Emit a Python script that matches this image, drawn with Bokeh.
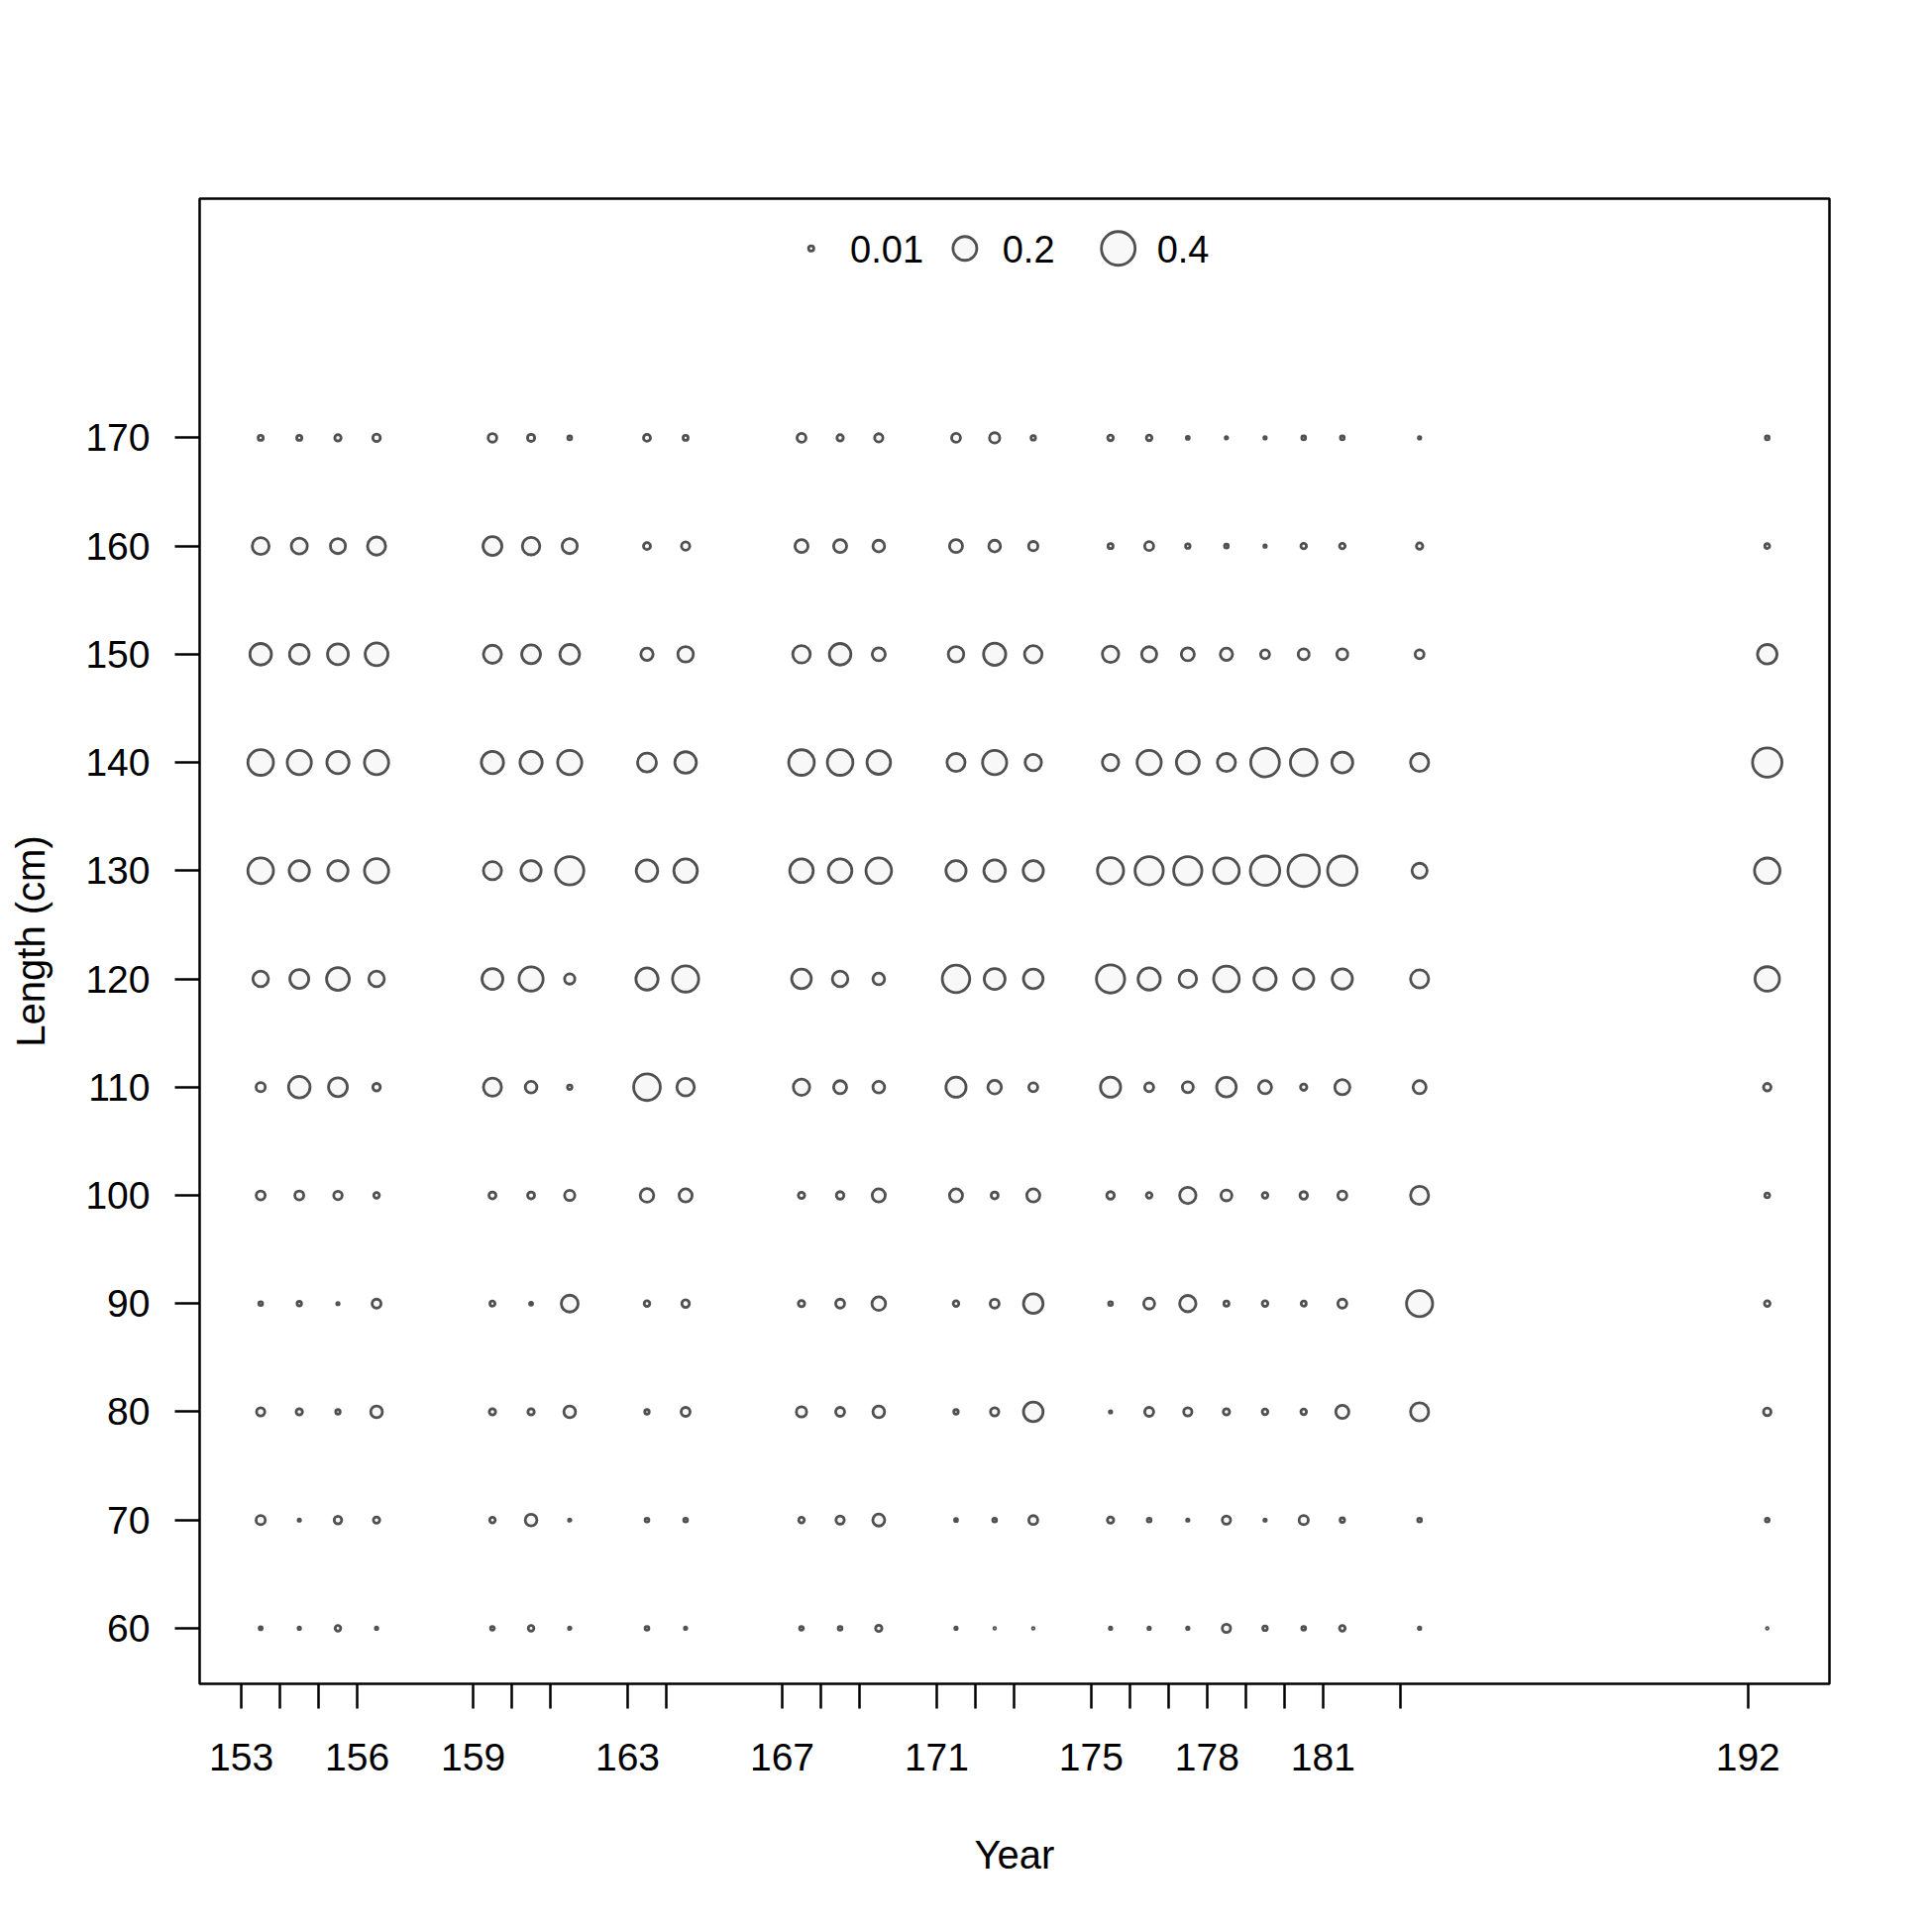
import math
from bokeh.plotting import figure
from bokeh.models import Range1d, FixedTicker, CustomJSTickFormatter, ColumnDataSource
from bokeh.core.properties import value
from bokeh.embed import file_html
from bokeh.resources import INLINE

# ---------------- data ----------------
years = [153, 154, 155, 156, 159, 160, 161, 163, 164, 167, 168, 169,
         171, 172, 173, 175, 176, 177, 178, 179, 180, 181, 183, 192]
labeled_years = [153, 156, 159, 163, 167, 171, 175, 178, 181, 192]
lengths = [60, 70, 80, 90, 100, 110, 120, 130, 140, 150, 160, 170]

prop_60 = [0.003, 0.002, 0.011, 0.002, 0.005, 0.011, 0.002, 0.005, 0.002, 0.005, 0.005, 0.014,
           0.002, 0.001, 0.001, 0.002, 0.002, 0.002, 0.024, 0.007, 0.005, 0.011, 0.002, 0.001]
prop_70 = [0.030, 0.002, 0.020, 0.014, 0.011, 0.048, 0.002, 0.005, 0.005, 0.011, 0.024, 0.050,
           0.003, 0.005, 0.028, 0.014, 0.005, 0.002, 0.024, 0.002, 0.030, 0.007, 0.005, 0.005]
prop_80 = [0.024, 0.014, 0.007, 0.048, 0.014, 0.014, 0.048, 0.007, 0.028, 0.037, 0.028, 0.048,
           0.007, 0.024, 0.135, 0.002, 0.028, 0.024, 0.014, 0.011, 0.011, 0.060, 0.115, 0.020]
prop_90 = [0.005, 0.007, 0.002, 0.028, 0.009, 0.003, 0.100, 0.011, 0.020, 0.014, 0.028, 0.065,
           0.011, 0.028, 0.135, 0.005, 0.042, 0.094, 0.009, 0.011, 0.009, 0.028, 0.240, 0.011]
prop_100 = [0.028, 0.028, 0.025, 0.011, 0.017, 0.017, 0.037, 0.065, 0.060, 0.014, 0.020, 0.060,
            0.060, 0.017, 0.060, 0.020, 0.011, 0.094, 0.042, 0.011, 0.020, 0.028, 0.115, 0.008]
prop_110 = [0.030, 0.163, 0.125, 0.020, 0.115, 0.048, 0.007, 0.250, 0.108, 0.094, 0.060, 0.048,
            0.143, 0.065, 0.028, 0.143, 0.028, 0.042, 0.135, 0.060, 0.014, 0.080, 0.060, 0.020]
prop_120 = [0.085, 0.125, 0.183, 0.085, 0.153, 0.205, 0.037, 0.173, 0.240, 0.135, 0.085, 0.048,
            0.265, 0.153, 0.135, 0.280, 0.173, 0.108, 0.230, 0.173, 0.143, 0.143, 0.115, 0.210]
prop_130 = [0.230, 0.143, 0.143, 0.205, 0.115, 0.143, 0.280, 0.163, 0.195, 0.195, 0.195, 0.230,
            0.143, 0.163, 0.143, 0.240, 0.280, 0.280, 0.230, 0.305, 0.350, 0.305, 0.080, 0.228]
prop_140 = [0.230, 0.205, 0.173, 0.205, 0.173, 0.173, 0.205, 0.125, 0.163, 0.230, 0.230, 0.195,
            0.115, 0.205, 0.094, 0.094, 0.205, 0.183, 0.115, 0.290, 0.250, 0.153, 0.115, 0.305]
prop_150 = [0.163, 0.135, 0.153, 0.183, 0.115, 0.125, 0.135, 0.053, 0.085, 0.108, 0.163, 0.060,
            0.085, 0.173, 0.108, 0.094, 0.080, 0.060, 0.053, 0.028, 0.042, 0.042, 0.028, 0.134]
prop_160 = [0.100, 0.090, 0.080, 0.115, 0.125, 0.108, 0.080, 0.017, 0.024, 0.060, 0.060, 0.048,
            0.060, 0.048, 0.030, 0.009, 0.028, 0.007, 0.005, 0.002, 0.011, 0.011, 0.014, 0.008]
prop_170 = [0.009, 0.009, 0.014, 0.020, 0.026, 0.018, 0.005, 0.017, 0.009, 0.028, 0.014, 0.024,
            0.028, 0.037, 0.007, 0.011, 0.011, 0.003, 0.002, 0.002, 0.005, 0.005, 0.002, 0.005]

props_by_length = [prop_60, prop_70, prop_80, prop_90, prop_100, prop_110,
                   prop_120, prop_130, prop_140, prop_150, prop_160, prop_170]

legend_values = [0.01, 0.2, 0.4]
legend_labels = ["0.01", "0.2", "0.4"]

# ---------------- styling ----------------
FONT = "Liberation Sans"
STROKE = "#505050"
FILL = "#f8f8f8"
SIZE_SCALE = 53.8  # px diameter per sqrt(proportion)
LW = 2.8

xs, ys, vals = [], [], []
for L, row in zip(lengths, props_by_length):
    for yr, v in zip(years, row):
        xs.append(yr + 0.5)
        ys.append(L)
        vals.append(v)
src = ColumnDataSource(dict(x=xs, y=ys, v=vals, s=[SIZE_SCALE * math.sqrt(v) for v in vals]))

p = figure(frame_width=1645, frame_height=1499,
           min_border_left=201, min_border_top=200, min_border_right=88, min_border_bottom=235,
           x_range=Range1d(151.92, 194.11), y_range=Range1d(54.87, 192.1),
           output_backend="svg", toolbar_location=None,
           background_fill_color="white", border_fill_color="white")
p.grid.visible = False
p.outline_line_color = "black"
p.outline_line_width = 2.5

p.scatter("x", "y", size="s", source=src, marker="circle",
          line_color=STROKE, fill_color=FILL, line_width=LW)

# legend (bubble key)
leg_x = [167.75, 171.73, 175.70]
leg_tx = [168.76, 172.70, 176.70]
leg_src = ColumnDataSource(dict(x=leg_x, y=[187.5] * 3,
                                s=[SIZE_SCALE * math.sqrt(v) for v in legend_values],
                                tx=leg_tx, ty=[187.4] * 3, t=legend_labels))
p.scatter("x", "y", size="s", source=leg_src, marker="circle",
          line_color=STROKE, fill_color=FILL, line_width=LW)
p.text("tx", "ty", text="t", source=leg_src, text_font=value(FONT),
       text_font_size="38px", text_color="black", text_baseline="middle", text_align="left")

# axes
xa = p.xaxis[0]
xa.ticker = FixedTicker(ticks=years)
xa.formatter = CustomJSTickFormatter(args=dict(lab=labeled_years),
                                     code="return lab.includes(tick) ? String(tick) : '';")
ya = p.yaxis[0]
ya.ticker = FixedTicker(ticks=lengths)

for ax in (xa, ya):
    ax.axis_line_color = None
    ax.major_tick_line_color = "black"
    ax.major_tick_line_width = 2.5
    ax.major_tick_out = 25
    ax.major_tick_in = 0
    ax.minor_tick_line_color = None
    ax.major_label_text_font = FONT
    ax.major_label_text_font_size = "39px"
    ax.major_label_text_color = "black"
    ax.axis_label_text_font = FONT
    ax.axis_label_text_font_size = "40px"
    ax.axis_label_text_font_style = "normal"
    ax.axis_label_text_color = "black"

xa.axis_label = "Year"
xa.major_label_standoff = 35
xa.axis_label_standoff = 60
ya.axis_label = "Length (cm)"
ya.major_label_standoff = 25
ya.axis_label_standoff = 30
ya.major_label_orientation = "horizontal"

open("out.html", "w").write(file_html(p, INLINE))
